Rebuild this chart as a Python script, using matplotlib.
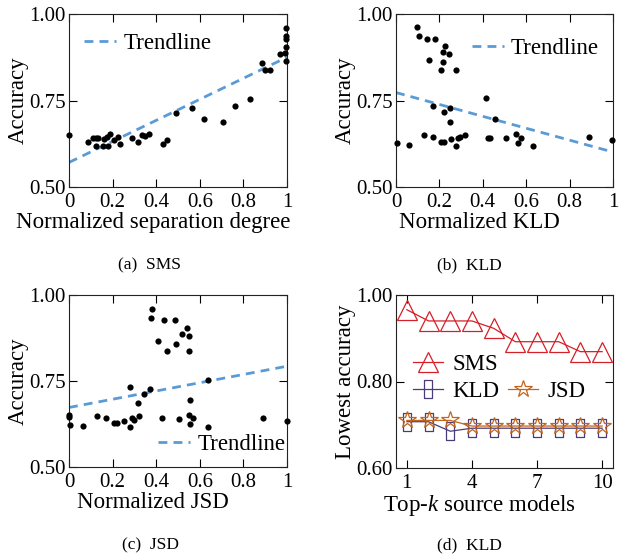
import numpy as np
import matplotlib
matplotlib.use('Agg')
import matplotlib.pyplot as plt
from matplotlib.lines import Line2D

plt.rcParams['font.family'] = ['Liberation Serif', 'DejaVu Serif']
plt.rcParams['mathtext.fontset'] = 'custom'
plt.rcParams['mathtext.it'] = 'Liberation Serif:italic'
plt.rcParams['mathtext.rm'] = 'Liberation Serif'

# (a) SMS: normalized separation degree vs accuracy
sep_x = [0, 0.089, 0.112, 0.124, 0.135, 0.124, 0.154, 0.160, 0.173, 0.180, 0.188, 0.205,
         0.225, 0.232, 0.289, 0.315, 0.335, 0.350, 0.365, 0.431, 0.451, 0.489, 0.564,
         0.619, 0.705, 0.763, 0.832, 0.884, 0.901, 0.924, 0.966, 0.992, 0.997, 0.997,
         0.997, 0.997, 0.997]
sep_y = [0.650, 0.629, 0.643, 0.643, 0.643, 0.618, 0.619, 0.639, 0.644, 0.618, 0.652, 0.635,
         0.644, 0.624, 0.642, 0.630, 0.651, 0.648, 0.653, 0.625, 0.635, 0.715, 0.728,
         0.696, 0.687, 0.734, 0.755, 0.859, 0.837, 0.837, 0.884, 0.887, 0.865, 0.906,
         0.929, 0.935, 0.959]

# (b) KLD
kld_x = [0.098, 0.106, 0.141, 0.179, 0.150, 0.225, 0.218, 0.242, 0.218, 0.206, 0.275, 0.003,
         0.061, 0.130, 0.169, 0.172, 0.222, 0.248, 0.248, 0.206, 0.221, 0.253, 0.276, 0.288,
         0.293, 0.319, 0.417, 0.423, 0.433, 0.457, 0.506, 0.555, 0.563, 0.575, 0.632, 0.888,
         0.997]
kld_y = [0.961, 0.935, 0.928, 0.928, 0.867, 0.908, 0.889, 0.885, 0.860, 0.838, 0.839, 0.626,
         0.621, 0.649, 0.645, 0.735, 0.716, 0.729, 0.688, 0.630, 0.631, 0.639, 0.619, 0.641,
         0.645, 0.651, 0.756, 0.643, 0.643, 0.696, 0.643, 0.654, 0.627, 0.643, 0.618, 0.645,
         0.635]

# (c) JSD
jsd_x = [0.381, 0.375, 0.436, 0.488, 0.540, 0.518, 0.552, 0.407, 0.489, 0.451, 0.549, 0.280,
         0.373, 0.343, 0.315, 0.638, 0.557, 0, 0, 0.003, 0.063, 0.130, 0.168, 0.206, 0.222,
         0.251, 0.280, 0.291, 0.297, 0.321, 0.428, 0.505, 0.549, 0.557, 0.569, 0.636, 0.890,
         1.0]
jsd_y = [0.958, 0.932, 0.926, 0.926, 0.905, 0.887, 0.882, 0.865, 0.858, 0.836, 0.838, 0.732,
         0.727, 0.713, 0.686, 0.753, 0.695, 0.650, 0.644, 0.623, 0.618, 0.647, 0.643, 0.627,
         0.628, 0.634, 0.616, 0.643, 0.638, 0.649, 0.641, 0.639, 0.652, 0.625, 0.642, 0.615,
         0.642, 0.633]

# trendline values at x=0 and x=1
trend_a = [0.571, 0.875]
trend_b = [0.773, 0.601]
trend_c = [0.673, 0.793]

# (d) lowest accuracy of top-k source models
top_k = [1, 2, 3, 4, 5, 6, 7, 8, 9, 10]
low_sms = [0.966, 0.940, 0.940, 0.940, 0.923, 0.892, 0.892, 0.892, 0.869, 0.869]
low_kld = [0.707, 0.707, 0.685, 0.692, 0.692, 0.692, 0.692, 0.692, 0.692, 0.692]
low_jsd = [0.710, 0.710, 0.710, 0.697, 0.697, 0.697, 0.697, 0.697, 0.697, 0.697]

captions = ['(a)  SMS', '(b)  KLD', '(c)  JSD', '(d)  KLD']

TREND = '#5B9BD5'
LBL = 16.5
TICK = 15

W, H = 624, 558
fig = plt.figure(figsize=(W / 100, H / 100), dpi=100)


def box(l, r, t, b):
    return [l / W, 1 - b / H, (r - l) / W, (b - t) / H]


def style(ax):
    ax.tick_params(direction='in', top=True, right=True, length=6, width=0.8,
                   labelsize=TICK, pad=4)
    ax.tick_params(axis='y', pad=2.5)
    for s in ax.spines.values():
        s.set_linewidth(0.8)
        s.set_color('#222222')
    # labels in the original sit left of the axes centre
    ax.xaxis.label.set_x(0.385)


def scatter_panel(rect, xs, ys, trend, xlabel, leg_anchor):
    ax = fig.add_axes(rect)
    ax.scatter(xs, ys, s=20, color='black', zorder=3, clip_on=False, linewidths=0)
    tx = np.array([0, 1])
    ax.plot(tx, trend, ls=(0, (3.2, 2.2)), color=TREND, lw=2.0, label='Trendline')
    ax.set_xlim(0, 1)
    ax.set_ylim(0.5, 1.0)
    ax.set_xticks([0, 0.2, 0.4, 0.6, 0.8, 1])
    ax.set_xticklabels(['0', '0.2', '0.4', '0.6', '0.8', '1'])
    ax.set_yticks([0.5, 0.75, 1.0])
    ax.set_yticklabels(['0.50', '0.75', '1.00'])
    ax.set_xlabel(xlabel, fontsize=LBL, labelpad=0)
    ax.set_ylabel('Accuracy', fontsize=LBL, labelpad=0)
    ax.legend(loc='center left', bbox_to_anchor=leg_anchor, frameon=False, fontsize=LBL,
              borderpad=0, borderaxespad=0, handlelength=1.4, handletextpad=0.3)
    style(ax)
    return ax


scatter_panel(box(69, 287, 14, 187), sep_x, sep_y, trend_a,
              'Normalized separation degree', (0.07, 0.83))
scatter_panel(box(396, 613, 14, 187), kld_x, kld_y, trend_b,
              'Normalized KLD', (0.35, 0.80))
scatter_panel(box(69, 287, 295, 467), jsd_x, jsd_y, trend_c,
              'Normalized JSD', (0.41, 0.13))

# (d)
ax = fig.add_axes(box(396, 613, 295, 468))
red = '#D42028'
purple = '#4A3C78'
brown = '#C2651E'
rect_marker = [(-0.42, -1), (0.42, -1), (0.42, 1), (-0.42, 1), (-0.42, -1)]
l1, = ax.plot(top_k, low_sms, color=red, lw=0.9, marker='^', ms=14.5, mfc='none',
              mec=red, mew=0.9, label='SMS', clip_on=False)
l2, = ax.plot(top_k, low_kld, color=purple, lw=0.9, marker=rect_marker, ms=13.5, mfc='none',
              mec=purple, mew=0.9, label='KLD', clip_on=False)
l3, = ax.plot(top_k, low_jsd, color=brown, lw=0.9, marker='*', ms=13, mfc='none',
              mec=brown, mew=0.9, label='JSD', clip_on=False)
blank = Line2D([], [], color='none', label=' ')
ax.set_xlim(0.5, 10.5)
ax.set_ylim(0.6, 1.0)
ax.set_xticks([1, 4, 7, 10])
ax.set_yticks([0.6, 0.8, 1.0])
ax.set_yticklabels(['0.60', '0.80', '1.00'])
ax.set_xlabel('Top-$k$ source models', fontsize=LBL, labelpad=0)
ax.set_ylabel('Lowest accuracy', fontsize=LBL, labelpad=0)
ax.legend(handles=[l1, l2, blank, l3], ncol=2, loc='center left',
          bbox_to_anchor=(0.08, 0.52), frameon=False, fontsize=LBL, borderpad=0,
          borderaxespad=0, handlelength=1.3, handletextpad=0.4, columnspacing=0.4,
          labelspacing=0.25)
style(ax)

# subfigure captions
cap_pos = [(150, 265), (469, 265), (150, 545), (469, 545)]
for (cx, cy), c in zip(cap_pos, captions):
    fig.text(cx / W, 1 - cy / H, c, fontsize=12.5, ha='center', va='center')

fig.savefig('out.png', dpi=100)
